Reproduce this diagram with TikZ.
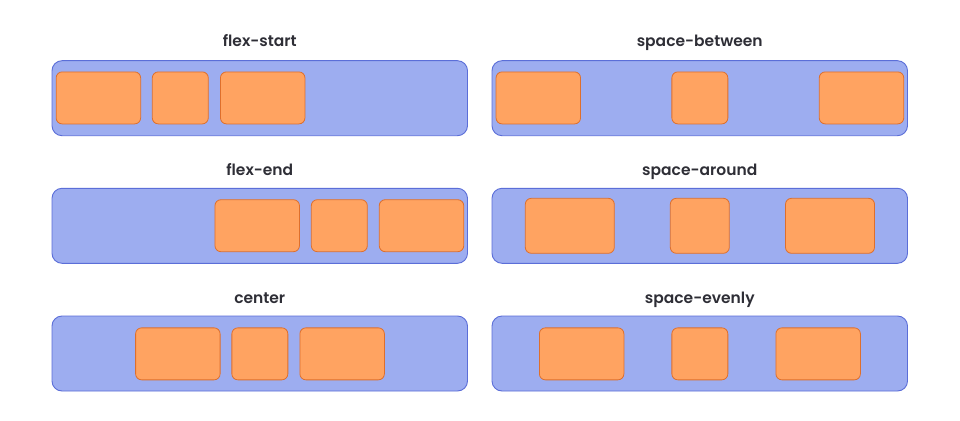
\documentclass[tikz,border=0pt]{standalone}
\usepackage{fontspec}
\setmainfont{Poppins}[BoldFont={Poppins SemiBold}]
\usepackage{tikz}
\usetikzlibrary{positioning}
\definecolor{boxfill}{HTML}{9DADF0}
\definecolor{boxline}{HTML}{5B6ED8}
\definecolor{itemfill}{HTML}{FFA361}
\definecolor{itemline}{HTML}{DE6F2C}
\definecolor{titletext}{HTML}{2E2E36}
\tikzset{
    Container/.style = {rectangle, rounded corners=10pt, draw=boxline, fill=boxfill, line width=0.9pt,
        minimum width=415.5pt, minimum height=75pt, inner sep=0pt}
}
\tikzset{
    Item/.style = {rectangle, rounded corners=6pt, draw=itemline, fill=itemfill, line width=0.8pt,
        minimum height=52pt, inner sep=0pt},
    BigItem/.style = {Item, minimum width=84.5pt},
    SmallItem/.style = {Item, minimum width=56pt}
}
\tikzset{
    Title/.style = {anchor=base, text=titletext, font=\bfseries\fontsize{15.5}{18}\selectfont, inner sep=0pt}
}

\begin{document}
\begin{tikzpicture}[x=1pt, y=-1pt]
\useasboundingbox[fill=white] (0,0) rectangle (960,420);
% titles
\node[Title] at (259.75,46.7) (t1) {flex-start};
\node[Title] at (699.75,46.7) (t2) {space-between};
\node[Title] at (259.75,175) (t3) {flex-end};
\node[Title] at (699.75,175) (t4) {space-around};
\node[Title] at (259.75,303) (t5) {center};
\node[Title] at (699.75,303) (t6) {space-evenly};
% containers
\node[Container] at (259.75,98.2) (c1) {};
\node[Container] at (699.75,98.2) (c2) {};
\node[Container] at (259.75,225.8) (c3) {};
\node[Container] at (699.75,225.8) (c4) {};
\node[Container] at (259.75,353.5) (c5) {};
\node[Container] at (699.75,353.5) (c6) {};
% flex-start
\node[BigItem] at (98.4,97.9) (a1) {};
\node[SmallItem] at (180.3,97.9) (a2) {};
\node[BigItem] at (262.7,97.9) (a3) {};
% space-between
\node[BigItem] at (538.3,97.9) (b1) {};
\node[SmallItem] at (699.85,97.9) (b2) {};
\node[BigItem] at (861.5,97.9) (b3) {};
% flex-end
\node[BigItem] at (257.2,225.7) (e1) {};
\node[SmallItem] at (339.3,225.7) (e2) {};
\node[BigItem] at (421.5,225.7) (e3) {};
% space-around
\node[BigItem, minimum width=89pt, minimum height=55pt] at (569.8,225.8) (r1) {};
\node[SmallItem, minimum width=59pt, minimum height=55pt] at (699.8,225.8) (r2) {};
\node[BigItem, minimum width=89pt, minimum height=55pt] at (830,225.8) (r3) {};
% center
\node[BigItem] at (177.85,353.85) (m1) {};
\node[SmallItem] at (259.85,353.85) (m2) {};
\node[BigItem] at (342.15,353.85) (m3) {};
% space-evenly
\node[BigItem] at (581.65,353.85) (v1) {};
\node[SmallItem] at (699.85,353.85) (v2) {};
\node[BigItem] at (818.15,353.85) (v3) {};
\end{tikzpicture}
\end{document}
